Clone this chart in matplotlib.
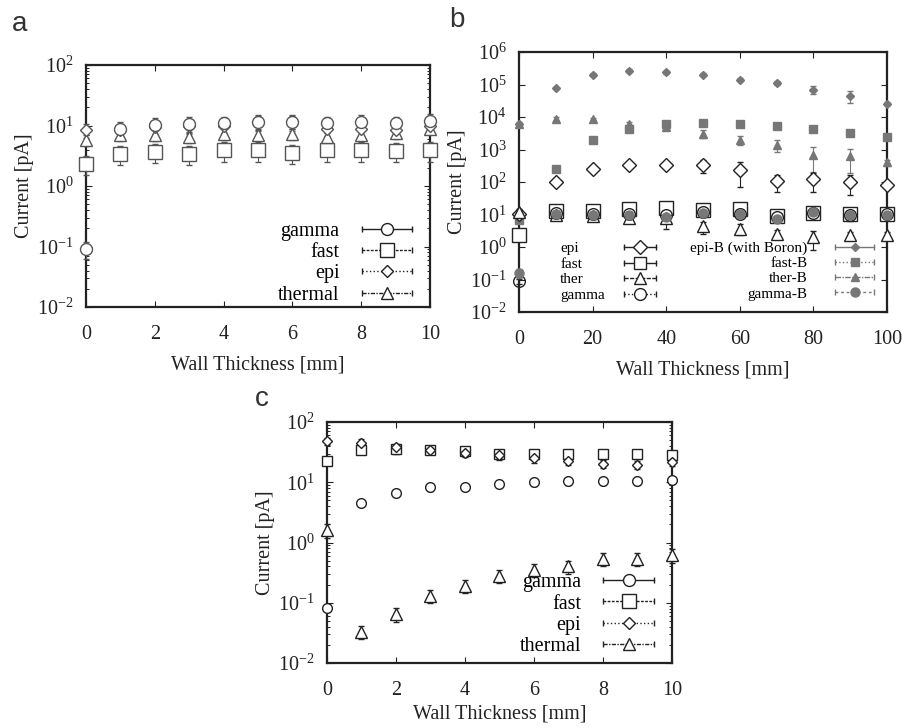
import numpy as np
import matplotlib
matplotlib.use("Agg")
import matplotlib.pyplot as plt
from matplotlib.lines import Line2D
from matplotlib.legend_handler import HandlerLine2D

plt.rcParams['font.family'] = ['Liberation Serif', 'DejaVu Serif']
plt.rcParams['mathtext.fontset'] = 'stix'

# ---- data ----
x_a = [0, 1, 2, 3, 4, 5, 6, 7, 8, 9, 10]
a_gamma = [0.09, 8.9, 10.1, 10.5, 10.8, 11.5, 11.5, 10.8, 11.5, 10.8, 12]
a_fast = [2.35, 3.4, 3.7, 3.4, 3.9, 3.9, 3.5, 3.9, 3.9, 3.8, 3.9]
a_epi = [8.4, 8.4, 9.5, 10, 10, 11.5, 11.5, 8.9, 8.9, 8.4, 10]
a_thermal = [5.7, 6.9, 6.9, 6.5, 7.2, 6.9, 7.2, 6.5, 6.9, 7.5, 8.9]
a_err = {'gamma': 0.3, 'fast': 0.35, 'epi': 0.25, 'thermal': 0.2}

x_b = [0, 10, 20, 30, 40, 50, 60, 70, 80, 90, 100]
b_epi = [10.5, 100, 260, 340, 340, 340, 240, 110, 120, 100, 83]
b_fast = [2.4, 13, 12.5, 15, 16, 14, 15, 8.7, 11, 10.5, 10.5]
b_ther = [12, 10, 9, 8, 8, 4.3, 3.7, 2.5, 2.0, 2.3, 2.3]
b_gamma = [0.088, 11, 10.5, 10.5, 9.5, 12, 10.5, 8.2, 11, 9.5, 10.5]
b_epiB = [6300, 79000, 2.0e5, 2.7e5, 2.4e5, 2.0e5, 1.4e5, 1.15e5, 7.0e4, 4.6e4, 2.6e4]
b_fastB = [6.6, 257, 1900, 4400, 5900, 6500, 6100, 5300, 4400, 3200, 2500]
b_therB = [6000, 9000, 8800, 6000, 5000, 3100, 2000, 1400, 700, 620, 400]
b_gammaB = [0.16, 10.5, 9.5, 9.5, 8.5, 11, 10.5, 7.5, 12, 9.5, 10]
b_epi_err = [0.1, 0.1, 0.15, 0.15, 0.15, 0.45, 0.7, 0.55, 0.6, 0.6, 0.1]
b_fast_err = [0.2, 0.2, 0.25, 0.3, 0.35, 0.3, 0.3, 0.25, 0.25, 0.4, 0.2]
b_ther_err = [0.2, 0.2, 0.2, 0.3, 0.55, 0.4, 0.35, 0.3, 0.6, 0.3, 0.3]
b_gamma_err = [0.2, 0.2, 0.2, 0.2, 0.2, 0.2, 0.2, 0.2, 0.2, 0.2, 0.2]
b_epiB_err = [0.1, 0.1, 0.1, 0.1, 0.1, 0.1, 0.1, 0.15, 0.25, 0.4, 0.1]
b_fastB_err = [0.1, 0.1, 0.15, 0.15, 0.15, 0.15, 0.15, 0.15, 0.15, 0.15, 0.15]
b_therB_err = [0.1, 0.1, 0.1, 0.2, 0.2, 0.25, 0.3, 0.4, 0.7, 0.7, 0.2]
b_gammaB_err = [0.3, 0.2, 0.2, 0.2, 0.2, 0.2, 0.2, 0.2, 0.2, 0.2, 0.2]

x_c = [0, 1, 2, 3, 4, 5, 6, 7, 8, 9, 10]
c_gamma = [0.083, 4.5, 6.6, 8.2, 8.4, 9.5, 10, 10.4, 10.4, 10.4, 10.8]
c_fast = [22.5, 34, 35, 34, 33, 30, 30, 30, 29, 29, 28]
c_epi = [48, 45, 38, 34, 31, 28, 25, 22.5, 20, 19.5, 21.5]
c_thermal = [1.6, 0.033, 0.065, 0.13, 0.19, 0.28, 0.35, 0.4, 0.54, 0.54, 0.62]
c_err = {'gamma': 0.12, 'fast': 0.15, 'epi': 0.15, 'thermal': 0.25}

fig = plt.figure(figsize=(9.03, 7.28), dpi=100)
handler_map = {}


def series(ax, x, y, frac, marker, ms, mfc, col):
    y = np.asarray(y, float)
    f = np.broadcast_to(np.asarray(frac, float), y.shape)
    e = ax.errorbar(x, y, yerr=[y * f, y * f], fmt=marker, ms=ms, mfc=mfc, mec=col,
                    mew=1.0, ecolor=col, elinewidth=0.8, capsize=2.0, capthick=0.8,
                    zorder=3)
    for art in e.lines[0:1] + e.lines[1] + e.lines[2]:
        art.set_clip_on(False)
    return e


def handle(marker, ms, mfc, ls, col='#222222'):
    cap = Line2D([], [], color=col, ls=ls, lw=1.0, marker='|', ms=5, mew=1.0)
    mk = Line2D([], [], color=col, ls='none', marker=marker, ms=ms, mfc=mfc, mec=col, mew=1.0)
    handler_map[cap] = HandlerLine2D(numpoints=2)
    handler_map[mk] = HandlerLine2D(numpoints=1)
    return (cap, mk)


def style(ax, xmax, xstep, ymin, ymax, xpad=8):
    ax.set_yscale('log')
    ax.set_xlim(0, xmax)
    ax.set_ylim(ymin, ymax)
    ax.set_xticks(np.arange(0, xmax + 1, xstep))
    ax.tick_params(direction='in', top=True, right=True, labelsize=14.5, length=4,
                   colors='#222222')
    ax.tick_params(axis='x', pad=13)
    ax.tick_params(axis='y', pad=9)
    ax.tick_params(which='minor', direction='in', top=True, right=True, length=2)
    for s in ax.spines.values():
        s.set_linewidth(1.6)
        s.set_color('#222222')
    ax.set_xlabel('Wall Thickness [mm]', fontsize=14.5, color='#222222', labelpad=xpad)
    ax.set_ylabel('Current [pA]', fontsize=14.5, color='#222222', labelpad=2)


# ---- panel a ----
ax = fig.add_axes([0.0952, 0.5783, 0.381, 0.3324])
g = '#555555'
series(ax, x_a, a_fast, a_err['fast'], 's', 9.4, 'white', g)
series(ax, x_a, a_thermal, a_err['thermal'], '^', 8.6, 'white', g)
series(ax, x_a, a_epi, a_err['epi'], 'D', 6, 'white', g)
series(ax, x_a, a_gamma, a_err['gamma'], 'o', 8.6, 'white', g)
style(ax, 10, 2, 1e-2, 1e2)
hs = [handle('o', 8.6, 'white', '-'), handle('s', 9.4, 'white', (0, (2, 1))),
      handle('D', 6, 'white', ':'), handle('^', 8.6, 'white', (0, (3, 1, 1, 1)))]
ax.legend(hs, ['gamma', 'fast', 'epi', 'thermal'], handler_map=handler_map,
          loc='lower right', frameon=False, markerfirst=False, fontsize=14.5,
          labelspacing=0.1, handlelength=3.1, handletextpad=0.8,
          borderaxespad=0.2, bbox_to_anchor=(1.0, -0.04))
fig.text(0.022, 0.985, 'a', family='Liberation Sans', fontsize=20, color='#333333',
         va='top', ha='center')

# ---- panel b ----
ax = fig.add_axes([0.5748, 0.5714, 0.4075, 0.3571])
g = '#222222'
fg = '#777777'
series(ax, x_b, b_epiB, b_epiB_err, 'D', 4.3, fg, fg)
series(ax, x_b, b_fastB, b_fastB_err, 's', 6.2, fg, fg)
series(ax, x_b, b_therB, b_therB_err, '^', 5.5, fg, fg)
series(ax, x_b, b_epi, b_epi_err, 'D', 7.4, 'white', g)
series(ax, x_b, b_fast, b_fast_err, 's', 9.4, 'white', g)
series(ax, x_b, b_ther, b_ther_err, '^', 9, 'white', g)
series(ax, x_b, b_gamma, b_gamma_err, 'o', 8.4, 'none', g)
series(ax, x_b, b_gammaB, b_gammaB_err, 'o', 6.5, fg, fg)
style(ax, 100, 20, 1e-2, 1e6)
ax.set_yticks([10.0 ** k for k in range(-2, 7)])

# left legend: text column left aligned, samples in their own column
lab1 = ['epi', 'fast', 'ther', 'gamma']
blank = [Line2D([], [], ls='none') for _ in lab1]
leg_t = ax.legend(blank, lab1, loc='lower left', frameon=False, fontsize=11,
                  labelspacing=0.12, handlelength=0, handletextpad=0,
                  borderaxespad=0, bbox_to_anchor=(0.095, 0.015))
ax.add_artist(leg_t)
h1 = [handle('D', 7, 'white', '-'), handle('s', 8.5, 'white', '-'),
      handle('^', 8, 'white', (0, (3, 1))), handle('o', 8.5, 'white', ':')]
leg_h = ax.legend(h1, [' '] * 4, handler_map=handler_map, loc='lower left',
                  frameon=False, fontsize=11, labelspacing=0.12, handlelength=2.7,
                  handletextpad=0, borderaxespad=0, bbox_to_anchor=(0.255, 0.015))
ax.add_artist(leg_h)
h2 = [handle('D', 4.3, fg, '-', fg), handle('s', 6.2, fg, ':', fg),
      handle('^', 5.5, fg, (0, (4, 1, 1, 1)), fg), handle('o', 6.5, fg, (0, (2, 2)), fg)]
ax.legend(h2, ['epi-B (with Boron)', 'fast-B', 'ther-B', 'gamma-B'],
          handler_map=handler_map, loc='lower right', frameon=False, markerfirst=False,
          fontsize=11, labelspacing=0.1, handlelength=3.2, handletextpad=1.5,
          borderaxespad=0, bbox_to_anchor=(0.995, 0.02))
fig.text(0.506, 0.99, 'b', family='Liberation Sans', fontsize=20, color='#333333',
         va='top', ha='center')

# ---- panel c ----
ax = fig.add_axes([0.3621, 0.0893, 0.382, 0.331])
g = '#222222'
series(ax, x_c, c_fast, c_err['fast'], 's', 7.7, 'white', g)
series(ax, x_c, c_epi, c_err['epi'], 'D', 5.6, 'white', g)
series(ax, x_c, c_gamma, c_err['gamma'], 'o', 7, 'white', g)
series(ax, x_c, c_thermal, c_err['thermal'], '^', 9, 'white', g)
style(ax, 10, 2, 1e-2, 1e2, xpad=3)
hc = [handle('o', 8.6, 'white', '-'), handle('s', 9.4, 'white', (0, (2, 1))),
      handle('D', 6, 'white', ':'), handle('^', 8.6, 'white', (0, (3, 1, 1, 1)))]
ax.legend(hc, ['gamma', 'fast', 'epi', 'thermal'], handler_map=handler_map,
          loc='lower right', frameon=False, markerfirst=False, fontsize=14.5,
          labelspacing=0.1, handlelength=3.1, handletextpad=0.8,
          borderaxespad=0.2, bbox_to_anchor=(1.0, -0.02))
fig.text(0.29, 0.47, 'c', family='Liberation Sans', fontsize=20, color='#333333',
         va='top', ha='center')

fig.savefig('out.png', dpi=100)
